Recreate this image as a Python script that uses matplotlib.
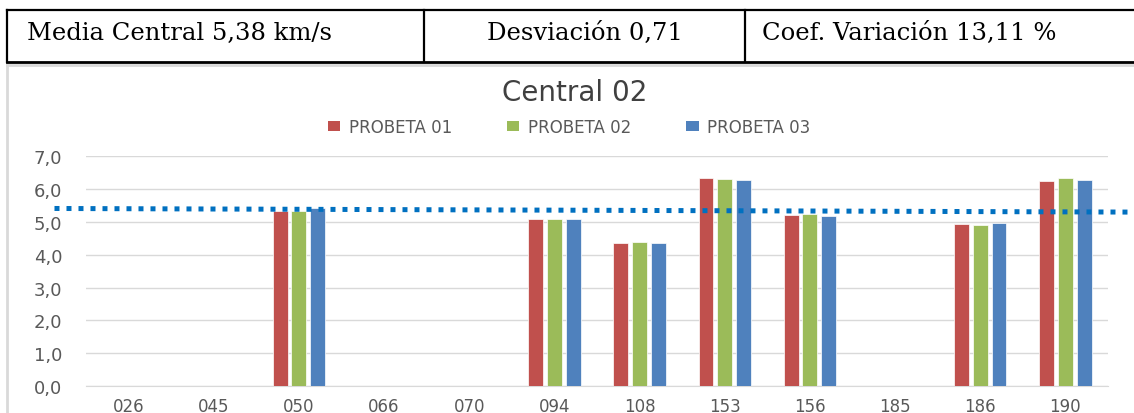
import matplotlib
matplotlib.use("Agg")
import matplotlib.pyplot as plt
import numpy as np
from matplotlib.patches import Patch
from matplotlib.lines import Line2D

# ---- data ----
categorias = ["026", "045", "050", "066", "070", "094", "108", "153", "156", "185", "186", "190"]
probeta_01 = [0, 0, 5.34, 0, 0, 5.10, 4.35, 6.34, 5.21, 0, 4.93, 6.25]
probeta_02 = [0, 0, 5.34, 0, 0, 5.10, 4.38, 6.30, 5.25, 0, 4.91, 6.34]
probeta_03 = [0, 0, 5.42, 0, 0, 5.10, 4.35, 6.27, 5.19, 0, 4.96, 6.28]
series_nombres = ["PROBETA 01", "PROBETA 02", "PROBETA 03"]
media_linea = [5.41, 5.30]          # dotted mean line (left end, right end)
y_ticks = [0, 1, 2, 3, 4, 5, 6, 7]
y_tick_labels = ["0,0", "1,0", "2,0", "3,0", "4,0", "5,0", "6,0", "7,0"]
titulo = "Central 02"
tabla_textos = ["Media Central 5,38 km/s", "Desviación 0,71", "Coef. Variación 13,11 %"]

colores = ["#C0504D", "#9BBB59", "#4F81BD"]

W, H = 1134, 414
fig = plt.figure(figsize=(W / 100, H / 100), dpi=100)
fig.patch.set_facecolor("white")

def fx(px):
    return px / W

def fy(py):
    return 1 - py / H

# ---- header table ----
lw_tab = 1.6
tab_top, tab_bot = 11, 63
xs = [7, 424, 745]
fig.add_artist(Line2D([fx(7), 1.0], [fy(tab_top)] * 2, color="black", lw=lw_tab))
fig.add_artist(Line2D([fx(7), 1.0], [fy(tab_bot)] * 2, color="black", lw=lw_tab + 0.4))
for x in xs:
    fig.add_artist(Line2D([fx(x)] * 2, [fy(tab_top), fy(tab_bot)], color="black", lw=lw_tab))
serif = ["DejaVu Serif"]
fs_tab = 17.5
fig.text(fx(27), fy(33), tabla_textos[0], ha="left", va="center", fontsize=fs_tab, family=serif)
fig.text(fx(584.5), fy(33), tabla_textos[1], ha="center", va="center", fontsize=fs_tab, family=serif)
fig.text(fx(762), fy(33), tabla_textos[2], ha="left", va="center", fontsize=fs_tab, family=serif)

# ---- chart frame ----
frame_col = "#D9D9D9"
fig.add_artist(Line2D([fx(7), 1.0], [fy(66)] * 2, color=frame_col, lw=2))
fig.add_artist(Line2D([fx(7)] * 2, [fy(66), 0.0], color=frame_col, lw=2))

# ---- chart ----
ax_left, ax_right = 86, 1108
ax_bottom, ax_top = 387, 157.3
ax = fig.add_axes([fx(ax_left), fy(ax_bottom), (ax_right - ax_left) / W, (ax_bottom - ax_top) / H])
ax.set_facecolor("white")

x = np.arange(len(categorias))
paso = 0.22
ancho = 0.175
for i, (vals, col, nom) in enumerate(zip([probeta_01, probeta_02, probeta_03], colores, series_nombres)):
    ax.bar(x + (i - 1) * paso, vals, width=ancho, color=col, edgecolor="white", linewidth=0.5,
           label=nom, zorder=3)

ax.set_xlim(-0.5, len(categorias) - 0.5)
ax.set_ylim(0, 7)
ax.set_yticks(y_ticks)
ax.set_yticklabels(y_tick_labels)
ax.set_xticks(x)
ax.set_xticklabels(categorias)
ax.grid(axis="y", color="#D9D9D9", lw=1.0, zorder=0)
ax.set_axisbelow(True)
for s in ["top", "right", "left"]:
    ax.spines[s].set_visible(False)
ax.spines["bottom"].set_color("#D9D9D9")
ax.tick_params(axis="both", length=0, colors="#595959")
ax.tick_params(axis="y", pad=17, labelsize=13)
ax.tick_params(axis="x", pad=8, labelsize=12)

# dotted mean line extending beyond plot area
xl = ax.get_xlim()
ax.plot([xl[0] - 0.37, xl[1] + 0.24], media_linea, color="#0070C0", lw=3.6,
        linestyle=(0, (1, 1.4)), dash_capstyle="butt", clip_on=False, zorder=4)

# title and legend
fig.text(fx(575), fy(93), titulo, ha="center", va="center", fontsize=20, color="#404040")
handles = [Patch(facecolor=c, edgecolor="none") for c in colores]
fig.legend(handles, series_nombres, loc="center", bbox_to_anchor=(fx(569), fy(128)), ncol=3,
           frameon=False, fontsize=12, labelcolor="#595959", handlelength=0.75, handleheight=0.6,
           handletextpad=0.5, columnspacing=3.3)

fig.savefig("out.png", dpi=100, facecolor="white")
